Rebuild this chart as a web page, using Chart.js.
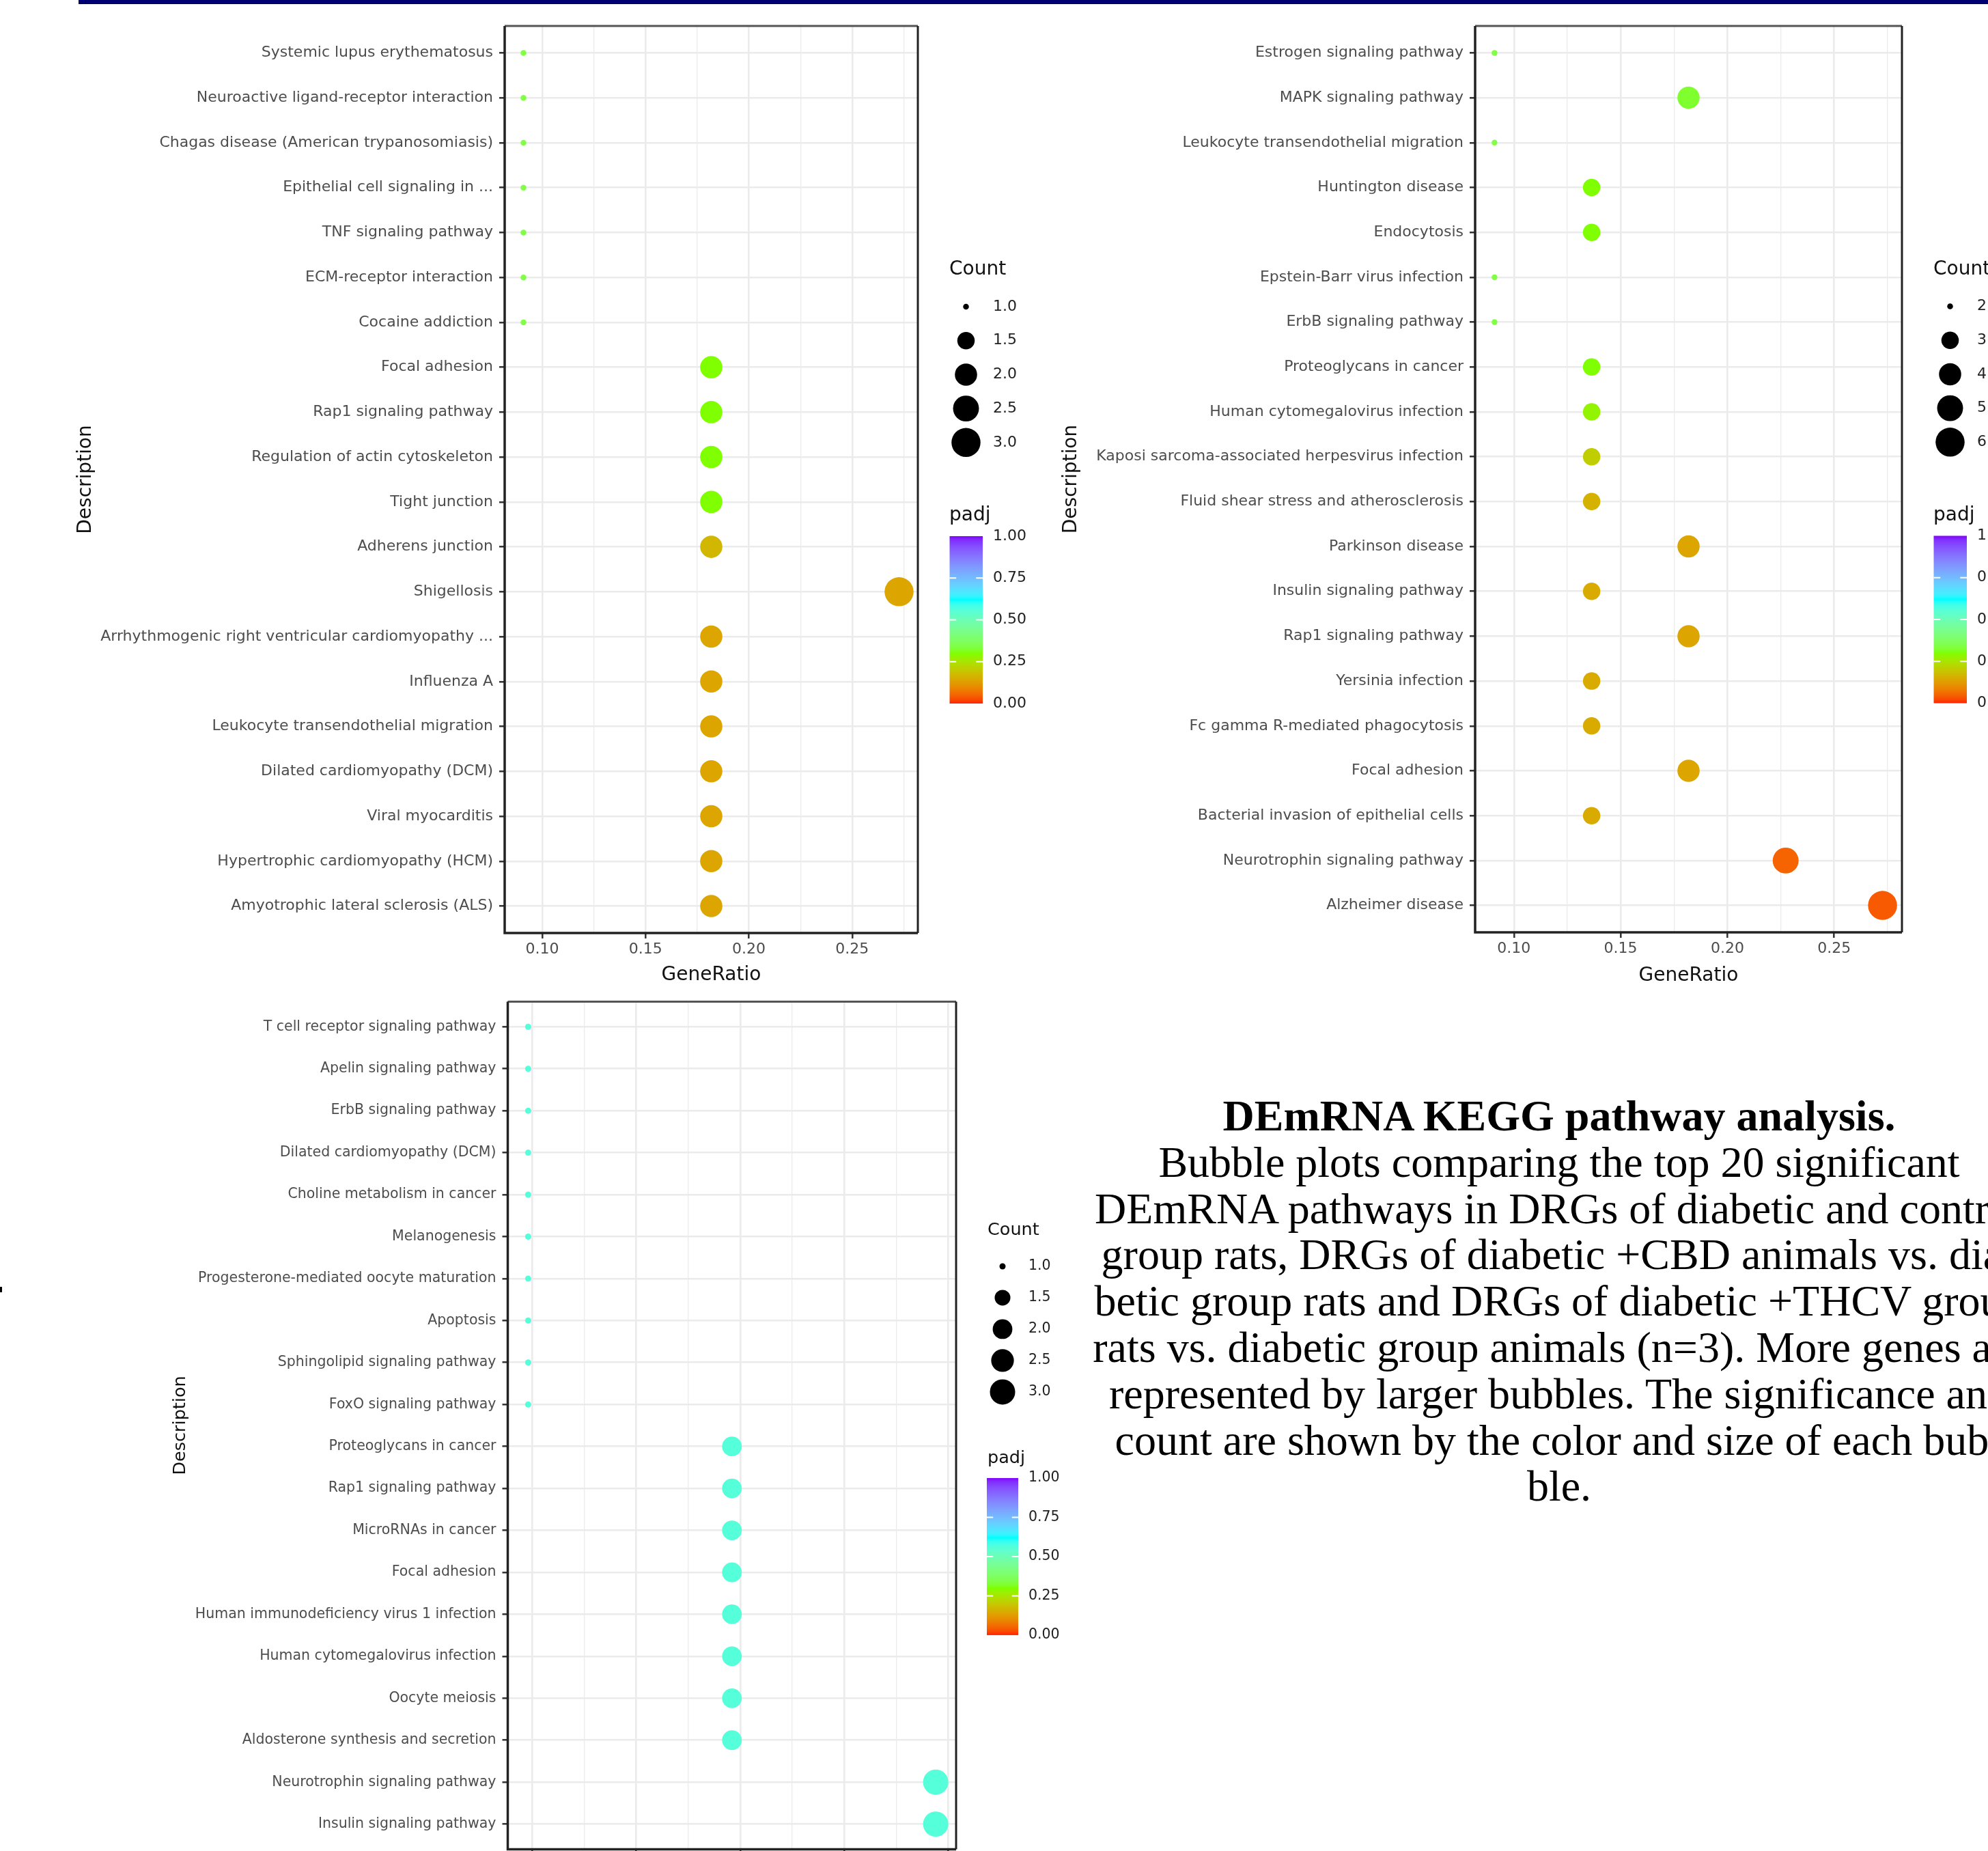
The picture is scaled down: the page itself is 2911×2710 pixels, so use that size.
<!DOCTYPE html>
<html>
<head>
<meta charset="utf-8">
<script src="https://cdn.jsdelivr.net/npm/chart.js@4.4.1/dist/chart.umd.min.js"></script>
<style>
  html, body { margin: 0; padding: 0; background: #fff; }
  body { width: 2911px; height: 2710px; overflow: hidden; position: relative; }
  canvas { position: absolute; }
  #topbar { position: absolute; left: 115px; top: 0; width: 2796px; height: 5px; background: #000072; border-bottom: 1px solid #000; }
  #caption { position: absolute; left: 1483px; top: 1600px; width: 1600px; text-align: center;
    font-family: 'Liberation Serif', 'Times New Roman', serif; font-size: 64px; line-height: 67.8px; color: #000; }
  #caption div { white-space: nowrap; }
  #caption .head { font-weight: bold; }
  #edge { position: absolute; left: 0; top: 1884px; width: 3px; height: 8px; background: #000; }
</style>
</head>
<body>
<div id="topbar"></div>
<div id="edge"></div>
<canvas id="kegg1" width="1570" height="1460" style="left:0;top:0"></canvas>
<canvas id="kegg2" width="1431" height="1460" style="left:1480px;top:0"></canvas>
<canvas id="kegg3" width="1580" height="1400" style="left:0;top:1440px"></canvas>
<div id="caption">
  <div class="head">DEmRNA KEGG pathway analysis.</div>
  <div>Bubble plots comparing the top 20 significant</div>
  <div>DEmRNA pathways in DRGs of diabetic and control</div>
  <div>group rats, DRGs of diabetic +CBD animals vs. dia-</div>
  <div>betic group rats and DRGs of diabetic +THCV group</div>
  <div>rats vs. diabetic group animals (n=3). More genes are</div>
  <div>represented by larger bubbles. The significance and</div>
  <div>count are shown by the color and size of each bub-</div>
  <div>ble.</div>
</div>
<script>
// ---------- data: diabetic vs control ----------
var labels1 = [
  "Systemic lupus erythematosus", "Neuroactive ligand-receptor interaction",
  "Chagas disease (American trypanosomiasis)", "Epithelial cell signaling in ...",
  "TNF signaling pathway", "ECM-receptor interaction", "Cocaine addiction",
  "Focal adhesion", "Rap1 signaling pathway", "Regulation of actin cytoskeleton",
  "Tight junction", "Adherens junction", "Shigellosis",
  "Arrhythmogenic right ventricular cardiomyopathy ...", "Influenza A",
  "Leukocyte transendothelial migration", "Dilated cardiomyopathy (DCM)",
  "Viral myocarditis", "Hypertrophic cardiomyopathy (HCM)", "Amyotrophic lateral sclerosis (ALS)"
];
var ratio1 = [0.0909, 0.0909, 0.0909, 0.0909, 0.0909, 0.0909, 0.0909,
  0.1818, 0.1818, 0.1818, 0.1818, 0.1818, 0.2727, 0.1818, 0.1818,
  0.1818, 0.1818, 0.1818, 0.1818, 0.1818];
var count1 = [1, 1, 1, 1, 1, 1, 1, 2, 2, 2, 2, 2, 3, 2, 2, 2, 2, 2, 2, 2];
var padj1 = [0.34, 0.34, 0.34, 0.34, 0.34, 0.34, 0.34,
  0.3, 0.3, 0.3, 0.3, 0.17, 0.14, 0.14, 0.14,
  0.14, 0.14, 0.14, 0.14, 0.14];

// ---------- data: diabetic +CBD vs diabetic ----------
var labels2 = [
  "Estrogen signaling pathway", "MAPK signaling pathway", "Leukocyte transendothelial migration",
  "Huntington disease", "Endocytosis", "Epstein-Barr virus infection", "ErbB signaling pathway",
  "Proteoglycans in cancer", "Human cytomegalovirus infection",
  "Kaposi sarcoma-associated herpesvirus infection", "Fluid shear stress and atherosclerosis",
  "Parkinson disease", "Insulin signaling pathway", "Rap1 signaling pathway", "Yersinia infection",
  "Fc gamma R-mediated phagocytosis", "Focal adhesion", "Bacterial invasion of epithelial cells",
  "Neurotrophin signaling pathway", "Alzheimer disease"
];
var ratio2 = [0.0909, 0.1818, 0.0909, 0.1364, 0.1364, 0.0909, 0.0909,
  0.1364, 0.1364, 0.1364, 0.1364, 0.1818, 0.1364, 0.1818, 0.1364,
  0.1364, 0.1818, 0.1364, 0.2273, 0.2727];
var count2 = [2, 4, 2, 3, 3, 2, 2, 3, 3, 3, 3, 4, 3, 4, 3, 3, 4, 3, 5, 6];
var padj2 = [0.34, 0.32, 0.34, 0.3, 0.3, 0.34, 0.34,
  0.3, 0.28, 0.21, 0.16, 0.14, 0.15, 0.14, 0.15,
  0.15, 0.14, 0.15, 0.05, 0.04];

// ---------- data: diabetic +THCV vs diabetic ----------
var labels3 = [
  "T cell receptor signaling pathway", "Apelin signaling pathway", "ErbB signaling pathway",
  "Dilated cardiomyopathy (DCM)", "Choline metabolism in cancer", "Melanogenesis",
  "Progesterone-mediated oocyte maturation", "Apoptosis", "Sphingolipid signaling pathway",
  "FoxO signaling pathway", "Proteoglycans in cancer", "Rap1 signaling pathway",
  "MicroRNAs in cancer", "Focal adhesion", "Human immunodeficiency virus 1 infection",
  "Human cytomegalovirus infection", "Oocyte meiosis", "Aldosterone synthesis and secretion",
  "Neurotrophin signaling pathway", "Insulin signaling pathway"
];
var ratio3 = [0.098, 0.098, 0.098, 0.098, 0.098, 0.098, 0.098, 0.098, 0.098, 0.098,
  0.196, 0.196, 0.196, 0.196, 0.196, 0.196, 0.196, 0.196, 0.294, 0.294];
var count3 = [1, 1, 1, 1, 1, 1, 1, 1, 1, 1, 2, 2, 2, 2, 2, 2, 2, 2, 3, 3];
var padj3 = [0.56, 0.56, 0.56, 0.56, 0.56, 0.56, 0.56, 0.56, 0.56, 0.56,
  0.56, 0.56, 0.56, 0.56, 0.56, 0.56, 0.56, 0.56, 0.56, 0.56];

// axis / legend breaks
var xTicksTop = [0.10, 0.15, 0.20, 0.25];
var xTicksBottom = [0.10, 0.15, 0.20, 0.25, 0.30];
var countBreaks1 = [1, 1.5, 2, 2.5, 3];
var countLabels1 = ["1.0", "1.5", "2.0", "2.5", "3.0"];
var countBreaks2 = [2, 3, 4, 5, 6];
var countLabels2 = ["2", "3", "4", "5", "6"];
var padjBreaks = [0, 0.25, 0.5, 0.75, 1];
var padjLabels = ["0.00", "0.25", "0.50", "0.75", "1.00"];

// colour scale for padj (interpolated in Lab like ggplot)
var padjStops = [[0, "#ff2200"], [0.3, "#7fff00"], [0.62, "#00ffff"], [1, "#8000ff"]];

function toLin(c) { c /= 255; return c <= 0.04045 ? c / 12.92 : Math.pow((c + 0.055) / 1.055, 2.4); }
function fromLin(c) {
  c = c <= 0.0031308 ? 12.92 * c : 1.055 * Math.pow(c, 1 / 2.4) - 0.055;
  return Math.round(Math.max(0, Math.min(1, c)) * 255);
}
function hexToLab(hex) {
  var r = toLin(parseInt(hex.substr(1, 2), 16)), g = toLin(parseInt(hex.substr(3, 2), 16)), b = toLin(parseInt(hex.substr(5, 2), 16));
  var X = (0.4124 * r + 0.3576 * g + 0.1805 * b) / 0.95047;
  var Y = 0.2126 * r + 0.7152 * g + 0.0722 * b;
  var Z = (0.0193 * r + 0.1192 * g + 0.9505 * b) / 1.08883;
  var f = function (t) { return t > 0.008856 ? Math.cbrt(t) : 7.787 * t + 16 / 116; };
  return [116 * f(Y) - 16, 500 * (f(X) - f(Y)), 200 * (f(Y) - f(Z))];
}
function labToRgb(L, a, b) {
  var fy = (L + 16) / 116, fx = fy + a / 500, fz = fy - b / 200;
  var inv = function (t) { return t * t * t > 0.008856 ? t * t * t : (t - 16 / 116) / 7.787; };
  var X = inv(fx) * 0.95047, Y = inv(fy), Z = inv(fz) * 1.08883;
  var r = 3.2406 * X - 1.5372 * Y - 0.4986 * Z;
  var g = -0.9689 * X + 1.8758 * Y + 0.0415 * Z;
  var bl = 0.0557 * X - 0.2040 * Y + 1.0570 * Z;
  return "rgb(" + fromLin(r) + "," + fromLin(g) + "," + fromLin(bl) + ")";
}
var labStops = padjStops.map(function (s) { return [s[0], hexToLab(s[1])]; });
function padjColor(p) {
  for (var i = 1; i < labStops.length; i++) {
    if (p <= labStops[i][0] || i == labStops.length - 1) {
      var a = labStops[i - 1], b = labStops[i];
      var t = (p - a[0]) / (b[0] - a[0]);
      return labToRgb(a[1][0] + t * (b[1][0] - a[1][0]), a[1][1] + t * (b[1][1] - a[1][1]), a[1][2] + t * (b[1][2] - a[1][2]));
    }
  }
}

// bubble radius: area scale like ggplot scale_size
function sizeScale(counts, dMin, dMax) {
  var lo = Math.min.apply(null, counts), hi = Math.max.apply(null, counts);
  return function (c) { return (dMin + (dMax - dMin) * Math.sqrt((c - lo) / (hi - lo))) / 2; };
}

function framePlugin(d, size) {
  return {
    id: "keggFrame",
    afterDraw: function (chart) {
      var ctx = chart.ctx, a = chart.chartArea, L = d.legend;
      ctx.save();
      // panel border
      ctx.lineWidth = 3;
      ctx.strokeStyle = "#555";
      ctx.beginPath(); ctx.moveTo(a.left, a.top); ctx.lineTo(a.right, a.top); ctx.stroke();
      ctx.strokeStyle = "#222";
      ctx.beginPath(); ctx.moveTo(a.right, a.top); ctx.lineTo(a.right, a.bottom); ctx.stroke();
      ctx.lineWidth = 3.5;
      ctx.beginPath(); ctx.moveTo(a.left, a.top); ctx.lineTo(a.left, a.bottom); ctx.lineTo(a.right, a.bottom); ctx.stroke();

      var cx = a.right, cy = (a.top + a.bottom) / 2;
      ctx.textBaseline = "middle";
      ctx.textAlign = "left";
      ctx.fillStyle = "#111";
      ctx.font = d.titleSize + "px 'DejaVu Sans'";
      ctx.fillText("Count", cx + L.titleX, cy + L.countY);
      d.countBreaks.forEach(function (c, i) {
        var y = cy + L.entryY + i * L.entryStep;
        ctx.fillStyle = "#000";
        ctx.beginPath(); ctx.arc(cx + L.dotX, y, size(c), 0, 2 * Math.PI); ctx.fill();
        ctx.fillStyle = "#222";
        ctx.font = d.tickSize + "px 'DejaVu Sans'";
        ctx.fillText(d.countLabels[i], cx + L.labelX, y);
      });

      ctx.fillStyle = "#111";
      ctx.font = d.titleSize + "px 'DejaVu Sans'";
      ctx.fillText("padj", cx + L.titleX, cy + L.padjY);
      var x0 = cx + L.barX, top = cy + L.barTop, bot = cy + L.barBottom;
      var grad = ctx.createLinearGradient(0, bot, 0, top);
      for (var k = 0; k <= 50; k++) grad.addColorStop(k / 50, padjColor(k / 50));
      ctx.fillStyle = grad;
      ctx.fillRect(x0, top, L.barW, bot - top);
      ctx.strokeStyle = "#fff";
      ctx.lineWidth = 2;
      padjBreaks.forEach(function (p, i) {
        var y = bot - p * (bot - top);
        if (p > 0 && p < 1) {
          ctx.beginPath();
          ctx.moveTo(x0, y); ctx.lineTo(x0 + L.barW / 5, y);
          ctx.moveTo(x0 + L.barW, y); ctx.lineTo(x0 + L.barW * 4 / 5, y);
          ctx.stroke();
        }
        ctx.fillStyle = "#222";
        ctx.font = d.tickSize + "px 'DejaVu Sans'";
        ctx.fillText(padjLabels[i], cx + L.labelX, y);
      });
      ctx.restore();
    }
  };
}

function keggChart(id, d) {
  var size = sizeScale(d.count, d.dMin, d.dMax);
  var lo = Math.min.apply(null, d.ratio), hi = Math.max.apply(null, d.ratio);
  var ex = (hi - lo) * 0.05, xmin = lo - ex, xmax = hi + ex;
  var step = d.xTicks[1] - d.xTicks[0];
  var grid = [];
  d.xTicks.forEach(function (v, i) {
    grid.push({ value: v - step / 2, major: false });
    grid.push({ value: v, major: true });
    if (i == d.xTicks.length - 1) grid.push({ value: v + step / 2, major: false });
  });
  grid = grid.filter(function (t) { return t.value >= xmin && t.value <= xmax; });

  return new Chart(document.getElementById(id), {
    type: "bubble",
    data: {
      datasets: [{
        data: d.ratio.map(function (x, i) { return { x: x, y: i + 1, r: size(d.count[i]) }; }),
        backgroundColor: d.padj.map(padjColor),
        borderWidth: 0
      }]
    },
    options: {
      responsive: false,
      animation: false,
      events: [],
      layout: { padding: d.padding, autoPadding: false },
      plugins: { legend: { display: false }, tooltip: { enabled: false } },
      scales: {
        x: {
          type: "linear", min: xmin, max: xmax,
          afterBuildTicks: function (s) { s.ticks = grid.map(function (t) { return { value: t.value, major: t.major }; }); },
          afterFit: function (s) { s.height = d.xHeight; },
          border: { display: false },
          grid: {
            color: "#ebebeb",
            lineWidth: function (c) { return c.tick && c.tick.major ? 2.6 : 1.3; },
            tickLength: 8, tickWidth: 2.5,
            tickColor: function (c) { return c.tick && c.tick.major ? "#333" : "rgba(0,0,0,0)"; }
          },
          ticks: {
            autoSkip: false, maxRotation: 0, padding: 3, color: "#4d4d4d",
            font: { size: d.tickSize },
            callback: function (v, i, ticks) { return ticks[i].major ? v.toFixed(2) : ""; }
          },
          title: { display: true, text: "GeneRatio", color: "#111", font: { size: d.titleSize }, padding: { top: 0, bottom: d.xTitlePad } }
        },
        y: {
          type: "linear", reverse: true, min: 0.4, max: d.labels.length + 0.6,
          afterBuildTicks: function (s) { s.ticks = d.labels.map(function (_, i) { return { value: i + 1 }; }); },
          afterFit: function (s) { s.width = d.yWidth; },
          border: { display: false },
          grid: { color: "#ebebeb", lineWidth: 2.6, tickLength: 8, tickWidth: 2.5, tickColor: "#333" },
          ticks: {
            autoSkip: false, padding: 9, color: "#4d4d4d",
            font: { size: d.tickSize },
            callback: function (v, i) { return d.labels[i]; }
          },
          title: { display: true, text: "Description", color: "#111", font: { size: d.titleSize }, padding: { top: d.yTitlePad, bottom: 0 } }
        }
      }
    },
    plugins: [framePlugin(d, size)]
  });
}

Chart.defaults.font.family = "'DejaVu Sans', sans-serif";

var legendTop = { titleX: 46, countY: -307, dotX: 70.5, entryY: -253, entryStep: 49.7, labelX: 110,
  padjY: 53, barX: 46.5, barW: 48.5, barTop: 83, barBottom: 328 };
var legendBottom = { titleX: 46, countY: -286, dotX: 68, entryY: -233, entryStep: 46, labelX: 106,
  padjY: 48, barX: 45, barW: 46, barTop: 77, barBottom: 307 };

keggChart("kegg1", {
  labels: labels1, ratio: ratio1, count: count1, padj: padj1, xTicks: xTicksTop,
  countBreaks: countBreaks1, countLabels: countLabels1, dMin: 8.5, dMax: 42.5,
  padding: { top: 38, right: 226, left: 0, bottom: 0 }, yWidth: 739, xHeight: 94,
  tickSize: 22, titleSize: 28, yTitlePad: 109, xTitlePad: 15, legend: legendTop
});
keggChart("kegg2", {
  labels: labels2, ratio: ratio2, count: count2, padj: padj2, xTicks: xTicksTop,
  countBreaks: countBreaks2, countLabels: countLabels2, dMin: 8.5, dMax: 42.5,
  padding: { top: 38, right: 126, left: 0, bottom: 0 }, yWidth: 680, xHeight: 95,
  tickSize: 22, titleSize: 28, yTitlePad: 72, xTitlePad: 14, legend: legendTop
});
keggChart("kegg3", {
  labels: labels3, ratio: ratio3, count: count3, padj: padj3, xTicks: xTicksBottom,
  countBreaks: countBreaks1, countLabels: countLabels1, dMin: 9, dMax: 37,
  padding: { top: 26.4, right: 180, left: 0, bottom: 0 }, yWidth: 743.5, xHeight: 132.5,
  tickSize: 20.5, titleSize: 25.5, yTitlePad: 249, xTitlePad: 16, legend: legendBottom
});
</script>
</body>
</html>
